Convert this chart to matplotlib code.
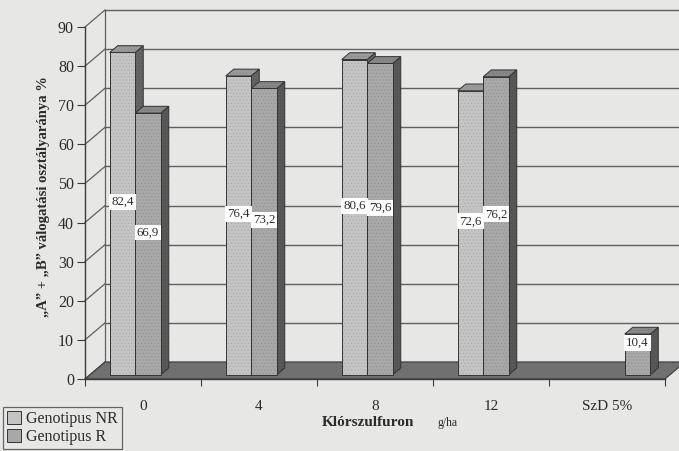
import numpy as np
import matplotlib.pyplot as plt
from matplotlib.patches import Polygon, Patch

plt.rcParams['font.family'] = ['Liberation Serif', 'DejaVu Serif']
plt.rcParams['hatch.linewidth'] = 0.4

categories = ['0', '4', '8', '12', 'SzD 5%']
nr_values = [82.4, 76.4, 80.6, 72.6, None]
r_values = [66.9, 73.2, 79.6, 76.2, None]
szd_values = [None, None, None, None, 10.4]
yticks = list(range(0, 100, 10))

paper = '#e7e7e5'
ink = '#2b2b2b'
grid_c = '#606060'

# oblique depth of the whole box (category units, value units)
DX, DY = 20 / 116.0, 17 / 3.911
F0, F1 = 0.25, 0.65      # front / back of the bars inside the box
W = 0.22                 # bar width

fig = plt.figure(figsize=(6.79, 4.51), dpi=100)
fig.patch.set_facecolor(paper)
ax = fig.add_axes([85 / 679, 72 / 451, 580 / 679, 352 / 451])
ax.set_facecolor('none')
ax.set_xlim(0, len(categories))
ax.set_ylim(0, 90)

# back wall grid + left wall diagonals
for v in yticks:
    ax.plot([DX, len(categories) + DX + 0.3], [v + DY, v + DY], color=grid_c, lw=1.0,
            clip_on=False, zorder=1)
    ax.plot([0, DX], [v, v + DY], color=grid_c, lw=0.9, clip_on=False, zorder=1)
ax.plot([DX, DX], [DY, 90 + DY], color=grid_c, lw=0.9, clip_on=False, zorder=1)

# floor
floor = Polygon([(0, 0), (len(categories), 0), (len(categories) + DX, DY), (DX, DY)],
                closed=True, fc='#707070', ec='#3c3c3c', lw=0.8, clip_on=False, zorder=2)
ax.add_patch(floor)


def bar3d(x0, v, face, top, side):
    fx, fy = F0 * DX, F0 * DY
    bx, by = F1 * DX, F1 * DY
    front = [(x0 + fx, fy), (x0 + W + fx, fy), (x0 + W + fx, v + fy), (x0 + fx, v + fy)]
    lid = [(x0 + fx, v + fy), (x0 + W + fx, v + fy), (x0 + W + bx, v + by), (x0 + bx, v + by)]
    wall = [(x0 + W + fx, fy), (x0 + W + bx, by), (x0 + W + bx, v + by), (x0 + W + fx, v + fy)]
    for pts, c in [(wall, side), (lid, top), (front, face)]:
        ax.add_patch(Polygon(pts, closed=True, fc=c, ec='#333333', lw=0.7,
                             clip_on=False, zorder=3))
        ax.add_patch(Polygon(pts, closed=True, fill=False, ec=(0, 0, 0, 0.12), lw=0,
                             hatch='.....', clip_on=False, zorder=3))
    txt = f'{v:.1f}'.replace('.', ',')
    ax.text(x0 + W / 2 + fx, v / 2 + 4, txt, ha='center', va='center', fontsize=9.3,
            color=ink, zorder=4,
            bbox=dict(boxstyle='square,pad=0.15', fc='white', ec='none'))


series = [(nr_values, 0.17, '#c4c4c4', '#9a9a9a', '#646464'),
          (r_values, 0.39, '#a8a8a8', '#888888', '#585858'),
          (szd_values, 0.61, '#a8a8a8', '#888888', '#585858')]
for i in range(len(categories)):
    for vals, off, face, top, side in series:
        if vals[i] is not None:
            bar3d(i + off, vals[i], face, top, side)

# axes
for s in ['top', 'right']:
    ax.spines[s].set_visible(False)
for s in ['left', 'bottom']:
    ax.spines[s].set_color('#3a3a3a')
    ax.spines[s].set_linewidth(1.0)
    ax.spines[s].set_zorder(5)
ax.set_yticks(yticks)
ax.tick_params(axis='y', length=6, direction='out', colors='#3a3a3a', labelcolor=ink,
               labelsize=11.5, pad=2)
ax.set_xticks(range(len(categories) + 1))
ax.set_xticklabels([])
ax.tick_params(axis='x', which='major', length=5, direction='out', colors='#3a3a3a')
ax.set_xticks(np.arange(len(categories)) + 0.5, minor=True)
ax.set_xticklabels(categories, minor=True)
ax.tick_params(axis='x', which='minor', length=0, pad=15, labelsize=11, labelcolor=ink)

fig.text(44 / 679, 1 - 197 / 451,
         '\u201eA\u201d + \u201eB\u201d válogatási osztályaránya %',
         rotation=90, ha='center', va='center', fontsize=10.5, fontweight='bold', color=ink)
fig.text(322 / 679, 1 - 426 / 451, 'Klórszulfuron', ha='left', va='baseline',
         fontsize=11, fontweight='bold', color=ink)
fig.text(438 / 679, 1 - 426 / 451, 'g/ha', ha='left', va='baseline', fontsize=8.5, color=ink)

handles = [Patch(fc='#c4c4c4', ec='#333333', lw=0.7),
           Patch(fc='#a8a8a8', ec='#333333', lw=0.7)]
leg = fig.legend(handles, ['Genotipus NR', 'Genotipus R'], loc='upper left',
                 bbox_to_anchor=(3 / 679, 1 - 407 / 451), fontsize=11.5, frameon=True,
                 fancybox=False, borderpad=0.25, handlelength=0.9, handleheight=0.9,
                 handletextpad=0.3, labelspacing=0.1, borderaxespad=0)
leg.get_frame().set_edgecolor('#444444')
leg.get_frame().set_facecolor(paper)
leg.get_frame().set_linewidth(0.9)
for t in leg.get_texts():
    t.set_color(ink)

fig.savefig('out.png', dpi=100, facecolor=paper)
